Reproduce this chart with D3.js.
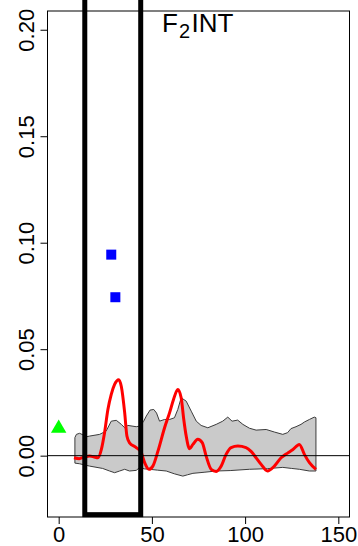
<!DOCTYPE html>
<html>
<head>
<meta charset="utf-8">
<script src="https://cdn.jsdelivr.net/npm/d3@7"></script>
<style>
  html, body { margin: 0; padding: 0; background: #ffffff; }
  svg { display: block; }
  text { font-family: "Liberation Sans", Arial, sans-serif; fill: #000; }
</style>
</head>
<body>
<svg id="chart" width="358" height="546"></svg>
<script>
// Observed statistic along position (smoothed curve)
const statX = [8.2, 11, 14, 16.6, 19, 21, 22.9, 24.6, 26.4, 28.2, 30, 32.2, 33.6, 35.4, 36.6, 38,
  41.6, 44.3, 46.1, 48.4, 50.5, 53.2, 56.8, 59.5, 61.6, 63.9, 65.7, 67.1, 68.4, 70.2, 72, 74.6, 77,
  79.1, 81.8, 84.5, 87.2, 89.8, 92.5, 96.1, 100.5, 103.2, 105.9, 108.6, 112, 115.7, 119.3, 122.8,
  125.5, 129.1, 131.8, 134.5, 138];
const statY = [-0.001, -0.0014, -0.0006, -0.0002, -0.0006, -0.001, 0.003, 0.0108, 0.0217, 0.0288,
  0.0335, 0.0357, 0.0325, 0.0202, 0.0092, 0.006, 0.0038, 0.0014, -0.0033, -0.0064, -0.0049, 0.002,
  0.0131, 0.0202, 0.0264, 0.0311, 0.0272, 0.017, 0.0092, 0.0033, 0.0053, 0.0077, 0.0061, -0.0002,
  -0.0064, -0.0074, -0.0049, 0.0006, 0.0038, 0.0045, 0.0038, 0.002, -0.001, -0.0041, -0.0072,
  -0.0049, -0.001, 0.0012, 0.0028, 0.0053, 0.0006, -0.0033, -0.0064];

// Null envelope: upper bound
const upperX = [8.7, 9.5, 11.2, 13, 14, 16.6, 22, 25.5, 28.2, 30.9, 33.6, 35.4, 37.1, 41.6, 43.4,
  45.5, 47, 49, 51, 52.5, 54.1, 56.8, 59.5, 62.1, 63.9, 65.7, 68.4, 71.1, 73.8, 76.4, 80, 84.5, 88,
  90.7, 93, 96, 98.8, 102.3, 105.9, 111.3, 115.7, 120.2, 122.8, 124.6, 127.3, 130, 131.8, 134.5,
  137.1, 138];
const upperY = [0.0085, 0.0100, 0.0105, 0.0098, 0.0087, 0.0092, 0.0100, 0.0116, 0.0162, 0.0166,
  0.0147, 0.0131, 0.0142, 0.0136, 0.0139, 0.0160, 0.0186, 0.0214, 0.0217, 0.0200, 0.0162, 0.0170,
  0.0170, 0.0178, 0.0217, 0.0272, 0.0256, 0.0209, 0.0162, 0.0142, 0.0131, 0.0147, 0.0162, 0.0181,
  0.0162, 0.0167, 0.0147, 0.0129, 0.0120, 0.0123, 0.0111, 0.0100, 0.0108, 0.0127, 0.0136, 0.0147,
  0.0158, 0.0170, 0.0181, 0.0178];

// Null envelope: lower bound
const lowerX = [8.7, 11.2, 16.6, 23.6, 27.3, 30, 32.7, 35.4, 38, 41.6, 43.4, 46, 48.8, 53, 57.7,
  62, 66.6, 69, 72, 78, 84.5, 92, 102.3, 112, 116, 120.2, 125, 129.1, 134.5, 138];
const lowerY = [-0.0035, -0.0038, -0.0049, -0.006, -0.0072, -0.008, -0.0072, -0.0064, -0.0072,
  -0.0069, -0.0056, -0.0062, -0.0064, -0.0068, -0.0072, -0.0085, -0.0096, -0.0090, -0.0083,
  -0.0078, -0.0072, -0.0070, -0.0064, -0.0061, -0.0058, -0.0055, -0.0060, -0.0064, -0.0072,
  -0.0072];

// Reference estimates
const squareX = [28.2, 30.4];
const squareY = [0.0944, 0.0744];
const triangleX = [0];
const triangleY = [0.0128];

// Highlighted window
const windowX = [14, 44];

// Axis ticks
const xTicks = [0, 50, 100, 150];
const yTicks = [0, 0.05, 0.10, 0.15, 0.20];

const svg = d3.select("#chart");
const plotLeft = 47.5, plotRight = 349.5, plotTop = 11, plotBottom = 517;

const x = d3.scaleLinear().domain([-6, 156]).range([plotLeft, plotRight]);
const y = d3.scaleLinear().domain([-0.0288, 0.2088]).range([plotBottom, plotTop]);

// Envelope polygon
const upper = upperX.map((v, i) => [v, upperY[i]]);
const lower = lowerX.map((v, i) => [v, lowerY[i]]);
const envelope = upper.concat(lower.slice().reverse());
svg.append("path")
  .attr("d", d3.line().x(d => x(d[0])).y(d => y(d[1]))(envelope) + "Z")
  .attr("fill", "#cacaca")
  .attr("stroke", "#3c3c3c")
  .attr("stroke-width", 1);

// Observed curve
svg.append("path")
  .attr("d", d3.line().curve(d3.curveMonotoneX).x(d => x(d[0])).y(d => y(d[1]))(statX.map((v, i) => [v, statY[i]])))
  .attr("fill", "none")
  .attr("stroke", "#ff0000")
  .attr("stroke-width", 3)
  .attr("stroke-linejoin", "round");

// Zero reference line
svg.append("line")
  .attr("x1", plotLeft).attr("x2", plotRight)
  .attr("y1", y(0)).attr("y2", y(0))
  .attr("stroke", "#000").attr("stroke-width", 1);

// Square markers
svg.selectAll("rect.sq").data(squareX.map((v, i) => [v, squareY[i]])).enter()
  .append("rect").attr("class", "sq")
  .attr("x", d => x(d[0]) - 5).attr("y", d => y(d[1]) - 5)
  .attr("width", 10).attr("height", 10)
  .attr("fill", "#0000ff");

// Triangle marker
const triR = 8.9;
svg.selectAll("path.tri").data(triangleX.map((v, i) => [v, triangleY[i]])).enter()
  .append("path").attr("class", "tri")
  .attr("d", d => {
    const cx = x(d[0]), cy = y(d[1]);
    const hw = triR * Math.sqrt(3) / 2;
    return `M${cx},${cy - triR}L${cx + hw},${cy + triR / 2}L${cx - hw},${cy + triR / 2}Z`;
  })
  .attr("fill", "#00ff00");

// Highlighted window (extends above the frame)
svg.append("rect")
  .attr("x", x(windowX[0])).attr("width", x(windowX[1]) - x(windowX[0]))
  .attr("y", y(0.25)).attr("height", y(-0.0277) - y(0.25))
  .attr("fill", "none").attr("stroke", "#000").attr("stroke-width", 5);

// Plot frame
svg.append("rect")
  .attr("x", plotLeft).attr("y", plotTop)
  .attr("width", plotRight - plotLeft).attr("height", plotBottom - plotTop)
  .attr("fill", "none").attr("stroke", "#000").attr("stroke-width", 1);

// Left axis with rotated labels
const yAxis = svg.append("g").attr("transform", `translate(${plotLeft},0)`)
  .call(d3.axisLeft(y).tickValues(yTicks).tickSize(7).tickFormat(d3.format(".2f")));
yAxis.select(".domain").remove();
yAxis.selectAll("line").attr("stroke", "#000");
yAxis.selectAll("text")
  .attr("transform", "rotate(-90)")
  .attr("x", 0).attr("y", -14).attr("dy", 0)
  .attr("text-anchor", "middle")
  .style("font-size", "22px")
  .style("font-family", "'Liberation Sans', Arial, sans-serif")
  .attr("fill", "#000");

// Bottom axis
const xAxis = svg.append("g").attr("transform", `translate(0,${plotBottom})`)
  .call(d3.axisBottom(x).tickValues(xTicks).tickSize(7).tickFormat(d3.format("d")));
xAxis.select(".domain").remove();
xAxis.selectAll("line").attr("stroke", "#000");
xAxis.selectAll("text")
  .attr("y", 24.7).attr("dy", 0)
  .style("font-size", "22px")
  .style("font-family", "'Liberation Sans', Arial, sans-serif")
  .attr("fill", "#000");

// Panel title
const title = svg.append("text")
  .attr("x", 162).attr("y", 32)
  .style("font-size", "26px");
title.append("tspan").text("F");
title.append("tspan").attr("dy", 6).attr("dx", 1).style("font-size", "20px").text("2");
title.append("tspan").attr("dy", -6).attr("dx", 1.5).text("INT");
</script>
</body>
</html>
